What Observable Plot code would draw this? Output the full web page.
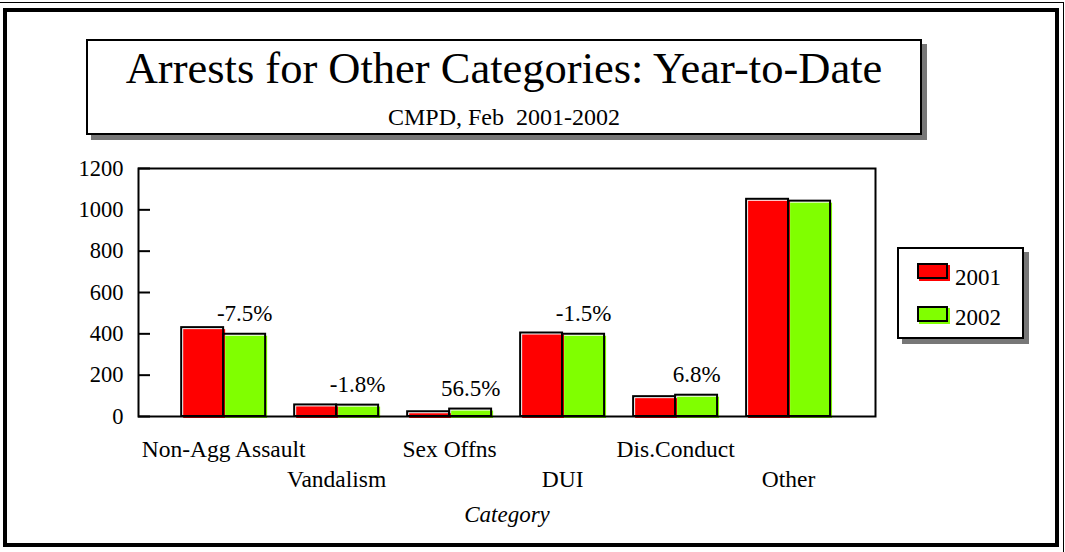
<!DOCTYPE html>
<html><head><meta charset="utf-8">
<script src="https://cdn.jsdelivr.net/npm/d3@7"></script>
<script src="https://cdn.jsdelivr.net/npm/@observablehq/plot@0.6"></script>
<style>
body{margin:0;background:#fff;}
#wrap{position:relative;width:1065px;height:552px;overflow:hidden;font-family:"Liberation Serif","Times New Roman",serif;color:#000;}
.abs{position:absolute;box-sizing:border-box;}
#chart{position:absolute;left:0;top:0;}
</style></head><body><div id="wrap">
<div class="abs" style="left:0;top:2px;width:1064px;height:560px;border-top:1px solid #000;border-right:1px solid #000;"></div>
<div class="abs" style="left:3px;top:8px;width:1056px;height:539px;border:4px solid #000;"></div>
<div class="abs" style="left:91px;top:44px;width:836px;height:96px;background:#777;"></div>
<div class="abs" style="left:86px;top:39px;width:836px;height:96px;border:2px solid #000;background:#fff;"></div>
<div class="abs" id="title" style="left:86px;width:836px;top:46px;text-align:center;font-size:44.5px;line-height:44px;white-space:pre;"></div>
<div class="abs" id="subtitle" style="left:86px;width:836px;top:105px;text-align:center;font-size:24px;line-height:24px;white-space:pre;"></div>
<div class="abs" style="left:902px;top:252px;width:127px;height:92px;background:#777;"></div>
<div class="abs" id="legend" style="left:897px;top:247px;width:127px;height:92px;border:2px solid #000;background:#fff;"></div>
<div id="chart"></div>
</div>
<script>
const titleText = "Arrests for Other Categories: Year-to-Date";
const subtitleText = "CMPD, Feb  2001-2002";
const categories = ["Non-Agg Assault", "Vandalism", "Sex Offns", "DUI", "Dis.Conduct", "Other"];
const series = ["2001", "2002"];
const seriesColors = ["#ff0000", "#80ff00"];
const v2001 = [430, 56, 23, 404, 96, 1051];
const v2002 = [398, 55, 36, 398, 103, 1042];
const pctLabels = ["-7.5%", "-1.8%", "56.5%", "-1.5%", "6.8%", null];
const yTicks = [0, 200, 400, 600, 800, 1000, 1200];
const xLabel = "Category";

document.getElementById("title").textContent = titleText;
document.getElementById("subtitle").textContent = subtitleText;

// legend
const leg = document.getElementById("legend");
series.forEach((s, i) => {
  const top = 14 + i * 43;
  const sw = document.createElement("div");
  sw.className = "abs";
  sw.style.cssText = `left:${18 + 2}px;top:${top + 2}px;width:31px;height:16px;background:${seriesColors[i]};`;
  leg.appendChild(sw);
  const sb = document.createElement("div");
  sb.className = "abs";
  sb.style.cssText = `left:18px;top:${top}px;width:31px;height:16px;border:2px solid #000;`;
  leg.appendChild(sb);
  const t = document.createElement("div");
  t.className = "abs";
  t.style.cssText = `left:56px;top:${17 + i * 40}px;font-size:23px;line-height:23px;`;
  t.textContent = s;
  leg.appendChild(t);
});

const rows = categories.map((c, i) => ({c, a: v2001[i], b: v2002[i], p: pctLabels[i]}));

const chart = Plot.plot({
  width: 1065, height: 552,
  marginLeft: 138, marginRight: 190, marginTop: 168, marginBottom: 136,
  style: {fontFamily: "'Liberation Serif', 'Times New Roman', serif", fontSize: "22px", background: "transparent", overflow: "visible", color: "#000"},
  x: {domain: categories, round: false, paddingInner: 0.257, paddingOuter: 0.39, align: 0.49, axis: null},
  y: {domain: [0, 1200], axis: null},
  marks: [
    Plot.barY(rows, {x: "c", y: "a", fill: seriesColors[0], insetRight: 42, dx: 2, dy: 2}),
    Plot.barY(rows, {x: "c", y: "b", fill: seriesColors[1], insetLeft: 42, dx: 2, dy: 2}),
    Plot.barY(rows, {x: "c", y: "a", fill: "none", stroke: "#000", strokeWidth: 2, insetRight: 42}),
    Plot.barY(rows, {x: "c", y: "b", fill: "none", stroke: "#000", strokeWidth: 2, insetLeft: 42}),
    Plot.frame({stroke: "#000", strokeWidth: 2}),
    Plot.ruleY(yTicks, {y: d => d, insetRight: 725, stroke: "#000", strokeWidth: 2}),
    Plot.text(yTicks, {y: d => d, text: d => String(d), frameAnchor: "left", textAnchor: "end", dx: -15, fontSize: 22.5, fill: "#000"}),
    Plot.text(rows.filter(r => r.p), {x: "c", y: "b", text: "p", dx: 21, dy: -13, lineAnchor: "bottom", fontSize: 23, fill: "#000"}),
    Plot.text(categories.filter((d, i) => i % 2 === 0), {x: d => d, text: d => d, frameAnchor: "bottom", dy: 40, fontSize: 23.5, fill: "#000"}),
    Plot.text(categories.filter((d, i) => i % 2 === 1), {x: d => d, text: d => d, frameAnchor: "bottom", dy: 70, fontSize: 23.5, fill: "#000"}),
    Plot.text([xLabel], {text: d => d, frameAnchor: "bottom", dy: 105, fontStyle: "italic", fontSize: 23, fill: "#000"})
  ]
});
document.getElementById("chart").appendChild(chart);
</script>
</body></html>
